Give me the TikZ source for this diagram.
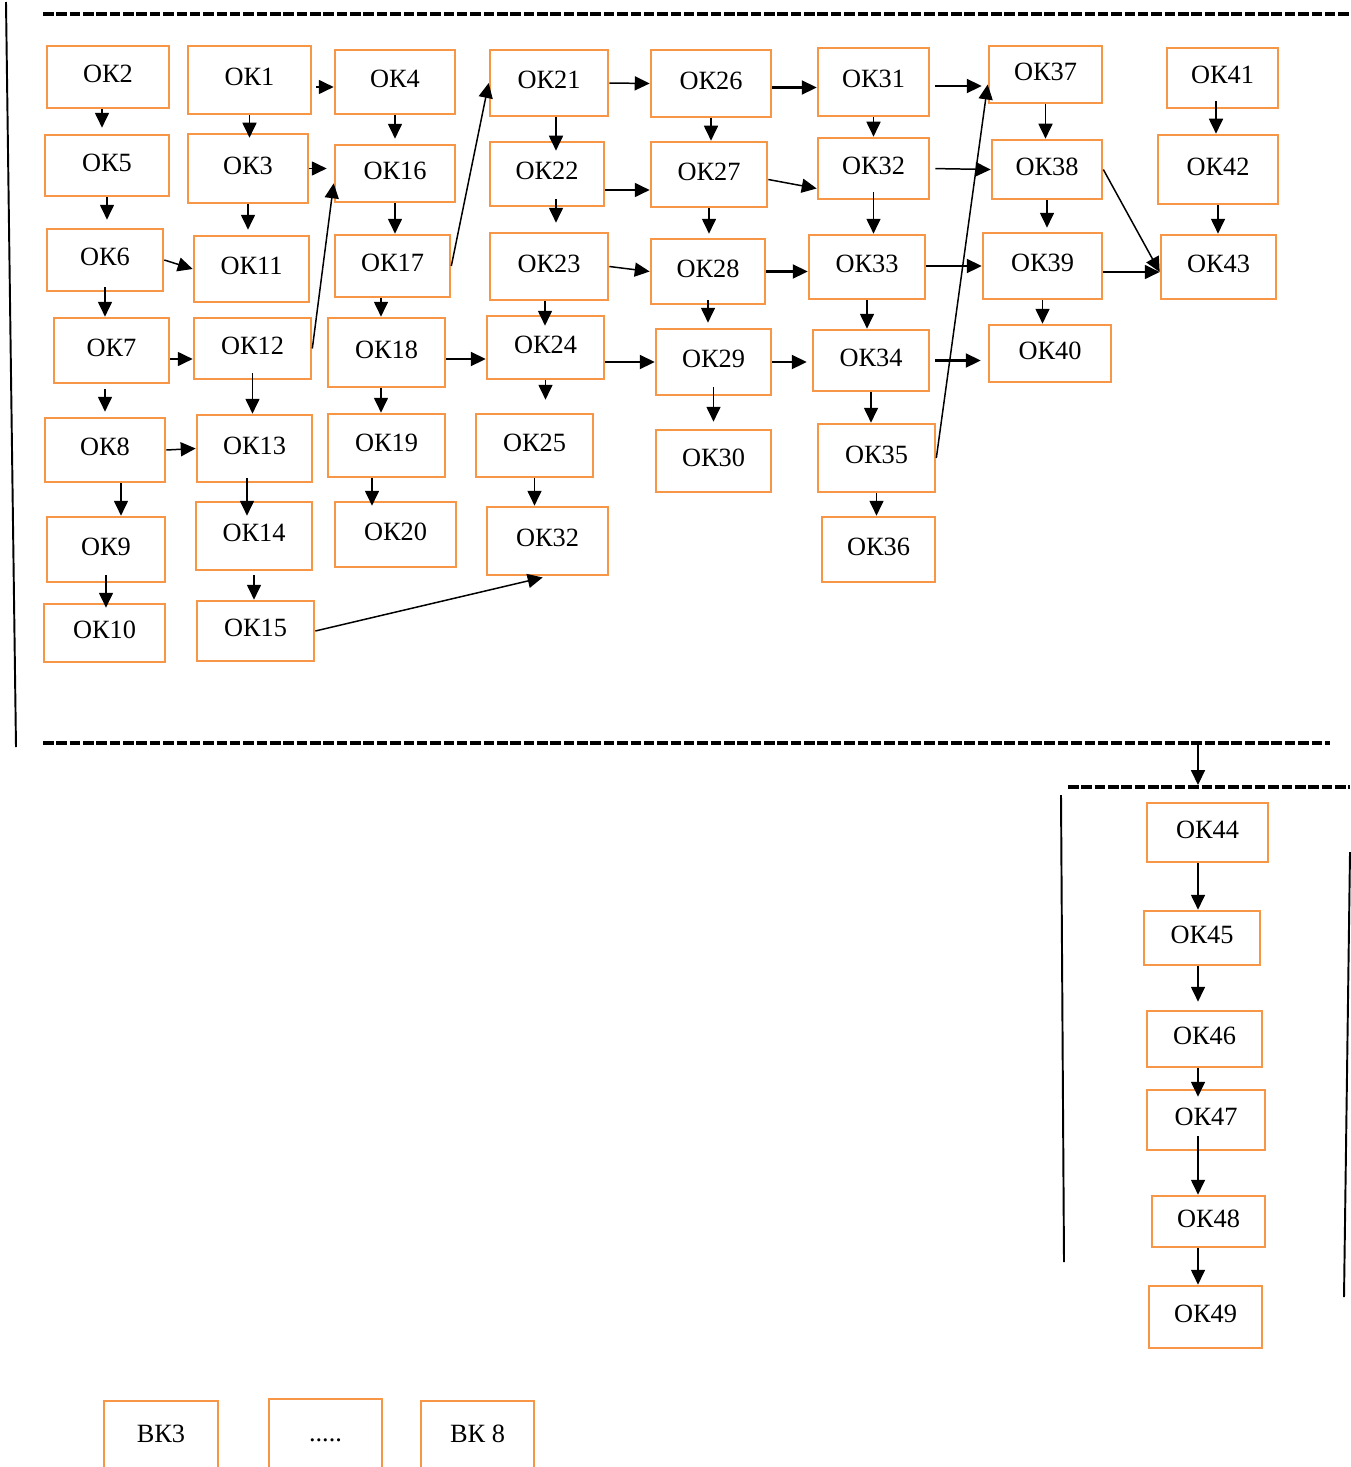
\documentclass[tikz,border=0pt]{standalone}
\usepackage{fontspec}
\setmainfont{Liberation Serif}
\usetikzlibrary{arrows.meta}
\definecolor{okorange}{RGB}{247,150,70}

\begin{document}
\begin{tikzpicture}[x=0.02cm,y=-0.02cm,
	okbox/.style={draw=okorange,line width=1.5pt,font=\fontsize{15}{18}\selectfont,text height=9.9pt,text depth=3.6pt,inner sep=2pt},
	sz/.style 2 args={minimum width=#1*0.02cm,minimum height=#2*0.02cm},
	okarr/.style={-{Triangle[length=8.5pt,width=8pt]},line width=0.85pt},
	okarrb/.style={okarr,line width=1.25pt},
	cut/.style={line width=2pt,dash pattern=on 6pt off 1.6pt}]
	\useasboundingbox (0,0) rectangle (1350,1467);

	% upper block
	\path (108,77)      node[okbox,sz={122}{62}] (ok2)  {ОК2};
	\path (249.5,80)    node[okbox,sz={123}{68}] (ok1)  {ОК1};
	\path (395,82)      node[okbox,sz={120}{64}] (ok4)  {ОК4};
	\path (107,165.5)   node[okbox,sz={124}{61}] (ok5)  {ОК5};
	\path (248,168.5)   node[okbox,sz={120}{69}] (ok3)  {ОК3};
	\path (395,173.5)   node[okbox,sz={120}{57}] (ok16) {ОК16};
	\path (105,260)     node[okbox,sz={116}{62}] (ok6)  {ОК6};
	\path (251.5,269)   node[okbox,sz={115}{66}] (ok11) {ОК11};
	\path (392.5,266)   node[okbox,sz={115}{62}] (ok17) {ОК17};
	\path (111.5,350.5) node[okbox,sz={115}{65}] (ok7)  {ОК7};
	\path (252.5,348.5) node[okbox,sz={117}{61}] (ok12) {ОК12};
	\path (386.5,352.5) node[okbox,sz={117}{69}] (ok18) {ОК18};
	\path (545.5,347.5) node[okbox,sz={117}{63}] (ok24) {ОК24};
	\path (105,450)     node[okbox,sz={120}{64}] (ok8)  {ОК8};
	\path (254.5,448.5) node[okbox,sz={115}{67}] (ok13) {ОК13};
	\path (386.5,445.5) node[okbox,sz={117}{63}] (ok19) {ОК19};
	\path (534.5,445.5) node[okbox,sz={117}{63}] (ok25) {ОК25};
	\path (106,549.5)   node[okbox,sz={118}{65}] (ok9)  {ОК9};
	\path (254,536)     node[okbox,sz={116}{68}] (ok14) {ОК14};
	\path (395.5,534.5) node[okbox,sz={121}{65}] (ok20) {ОК20};
	\path (547.5,541)   node[okbox,sz={121}{68}] (ok32b) {ОК32};
	\path (104.5,633)   node[okbox,sz={121}{58}] (ok10) {ОК10};
	\path (255.5,631)   node[okbox,sz={117}{60}] (ok15) {ОК15};
	\path (549,83)      node[okbox,sz={118}{66}] (ok21) {ОК21};
	\path (711,83.5)    node[okbox,sz={120}{67}] (ok26) {ОК26};
	\path (873.5,82)    node[okbox,sz={111}{68}] (ok31) {ОК31};
	\path (547,174)     node[okbox,sz={114}{64}] (ok22) {ОК22};
	\path (709,174.5)   node[okbox,sz={116}{65}] (ok27) {ОК27};
	\path (873.5,168.5) node[okbox,sz={111}{61}] (ok32) {ОК32};
	\path (549,266.5)   node[okbox,sz={118}{67}] (ok23) {ОК23};
	\path (708,271.5)   node[okbox,sz={114}{65}] (ok28) {ОК28};
	\path (867,267)     node[okbox,sz={116}{64}] (ok33) {ОК33};
	\path (713.5,362)   node[okbox,sz={115}{66}] (ok29) {ОК29};
	\path (871,360.5)   node[okbox,sz={116}{61}] (ok34) {ОК34};
	\path (1050,353.5)  node[okbox,sz={122}{57}] (ok40) {ОК40};
	\path (713.5,461)   node[okbox,sz={115}{62}] (ok30) {ОК30};
	\path (876.5,458)   node[okbox,sz={117}{68}] (ok35) {ОК35};
	\path (878.5,549.5) node[okbox,sz={113}{65}] (ok36) {ОК36};
	\path (1045.5,74.5) node[okbox,sz={113}{57}] (ok37) {ОК37};
	\path (1222.5,78)   node[okbox,sz={111}{60}] (ok41) {ОК41};
	\path (1047,169.5)  node[okbox,sz={110}{59}] (ok38) {ОК38};
	\path (1218,169.5)  node[okbox,sz={120}{69}] (ok42) {ОК42};
	\path (1042.5,266)  node[okbox,sz={119}{66}] (ok39) {ОК39};
	\path (1218.5,267)  node[okbox,sz={115}{64}] (ok43) {ОК43};

	% lower block
	\path (1207.5,832.5) node[okbox,sz={121}{59}] (ok44) {ОК44};
	\path (1202,938)     node[okbox,sz={116}{54}] (ok45) {ОК45};
	\path (1204.5,1039)  node[okbox,sz={115}{56}] (ok46) {ОК46};
	\path (1206,1120)    node[okbox,sz={118}{60}] (ok47) {ОК47};
	\path (1208.5,1221.5) node[okbox,sz={113}{51}] (ok48) {ОК48};
	\path (1205.5,1317)  node[okbox,sz={113}{62}] (ok49) {ОК49};

	\path (161,1436.5)   node[okbox,sz={114}{71}] (vk3)  {ВК3};
	\path (325.5,1435.5) node[okbox,sz={113}{73}] (vkx)  {.....};
	\path (477.5,1436.5) node[okbox,sz={113}{71}] (vk8)  {ВК 8};

	% frames
	\draw[line width=1.1pt] (6,2) -- (16,747);
	\draw[cut] (43,14) -- (1350,14);
	\draw[cut] (43,743) -- (1330,743);
	\draw[cut] (1068,787) -- (1350,787);
	\draw[line width=1.1pt] (1061,795) -- (1064,1262);
	\draw[line width=1.1pt] (1350,852) -- (1344,1297);

	% down the columns
	\draw[okarr,shorten >=0.12cm] ([xshift=-0.12cm]ok2.south) -- ([xshift=-0.12cm]ok2.south |- ok5.north);
	\draw[okarr,shorten >=0.16cm] (ok5.south) -- (ok5.south |- ok6.north);
	\draw[okarr,shorten <=-0.1cm] (ok6.south) -- (ok6.south |- ok7.north);
	\draw[okarr,shorten <=0.1cm,shorten >=0.1cm] ([xshift=-0.13cm]ok7.south) -- ([xshift=-0.13cm]ok7.south |- ok8.north);
	\draw[okarr] ([xshift=0.32cm]ok8.south) -- ([xshift=0.32cm]ok8.south |- ok9.north);
	\draw[okarr,shorten <=-0.16cm,shorten >=-0.1cm] (ok9.south) -- (ok9.south |- ok10.north);
	\draw[okarr,shorten >=-0.1cm] (ok1.south) -- (ok1.south |- ok3.north);
	\draw[okarr,shorten >=0.1cm] (ok3.south) -- (ok3.south |- ok11.north);
	\draw[okarr,shorten <=-0.14cm] (ok12.south) -- (ok12.south |- ok13.north);
	\draw[okarr,shorten <=-0.1cm,shorten >=-0.3cm] ([xshift=-0.15cm]ok13.south) -- ([xshift=-0.15cm]ok13.south |- ok14.north);
	\draw[okarr,shorten <=0.08cm] (ok14.south) -- (ok14.south |- ok15.north);
	\draw[okarr,shorten >=0.1cm] (ok4.south) -- (ok4.south |- ok16.north);
	\draw[okarr] (ok16.south) -- (ok16.south |- ok17.north);
	\draw[okarr] ([xshift=-0.23cm]ok17.south) -- ([xshift=-0.23cm]ok17.south |- ok18.north);
	\draw[okarr] ([xshift=-0.11cm]ok18.south) -- ([xshift=-0.11cm]ok18.south |- ok19.north);
	\draw[okarr,shorten >=-0.1cm] ([xshift=-0.29cm]ok19.south) -- ([xshift=-0.29cm]ok19.south |- ok20.north);
	\draw[okarr,shorten >=-0.2cm] ([xshift=0.14cm]ok21.south) -- ([xshift=0.14cm]ok21.south |- ok22.north);
	\draw[okarr,shorten <=-0.16cm,shorten >=0.18cm] ([xshift=0.18cm]ok22.south) -- ([xshift=0.18cm]ok22.south |- ok23.north);
	\draw[okarr,shorten >=-0.22cm] ([xshift=-0.08cm]ok23.south) -- ([xshift=-0.08cm]ok23.south |- ok24.north);
	\draw[okarr,shorten >=0.26cm] (ok24.south) -- (ok24.south |- ok25.north);
	\draw[okarr] (ok25.south) -- (ok25.south |- ok32b.north);
	\draw[okarr] (ok26.south) -- (ok26.south |- ok27.north);
	\draw[okarr,shorten >=0.08cm] (ok27.south) -- (ok27.south |- ok28.north);
	\draw[okarr,shorten <=-0.1cm,shorten >=0.1cm] (ok28.south) -- (ok28.south |- ok29.north);
	\draw[okarr,shorten <=-0.18cm,shorten >=0.14cm] (ok29.south) -- (ok29.south |- ok30.north);
	\draw[okarr] (ok31.south) -- (ok31.south |- ok32.north);
	\draw[okarr,shorten <=-0.16cm] (ok32.south) -- (ok32.south |- ok33.north);
	\draw[okarr] (ok33.south) -- (ok33.south |- ok34.north);
	\draw[okarr] (ok34.south) -- (ok34.south |- ok35.north);
	\draw[okarr] (ok35.south) -- (ok35.south |- ok36.north);
	\draw[okarr] (ok37.south) -- (ok37.south |- ok38.north);
	\draw[okarr,shorten >=0.08cm] (ok38.south) -- (ok38.south |- ok39.north);
	\draw[okarr] (ok39.south) -- (ok39.south |- ok40.north);
	\draw[okarr,shorten <=-0.16cm] ([xshift=-0.13cm]ok41.south) -- ([xshift=-0.13cm]ok41.south |- ok42.north);
	\draw[okarr] (ok42.south) -- (ok42.south |- ok43.north);

	% across the rows
	\draw[okarr,shorten <=0.08cm] ([yshift=-0.14cm]ok1.east) -- ([yshift=-0.14cm]ok1.east -| ok4.west);
	\draw[okarr,shorten >=0.14cm] (ok3.east) -- (ok3.east -| ok16.west);
	\draw[okarr] (ok6.east) -- (ok11.west);
	\draw[okarr] ([yshift=-0.17cm]ok7.east) -- ([yshift=-0.17cm]ok7.east -| ok12.west);
	\draw[okarr] (ok8.east) -- (ok13.west);
	\draw[okarr] (ok12.east) -- ([yshift=0.4cm]ok16.south west);
	\draw[okarr] (ok17.east) -- (ok21.west);
	\draw[okarrb] ([yshift=-0.13cm]ok18.east) -- ([yshift=-0.13cm]ok18.east -| ok24.west);
	\draw[okarrb] (ok24.east |- ok29.west) -- (ok29.west);
	\draw[okarr] (ok21.east) -- (ok26.west);
	\draw[okarr] ([yshift=-0.32cm]ok22.east) -- ([yshift=-0.32cm]ok22.east -| ok27.west);
	\draw[okarr] (ok23.east) -- (ok28.west);
	\draw[okarrb] ([yshift=-0.08cm]ok26.east) -- ([yshift=-0.08cm]ok26.east -| ok31.west);
	\draw[okarr] ([yshift=-0.1cm]ok27.east) -- ([yshift=-0.4cm]ok32.west);
	\draw[okarrb] (ok28.east) -- (ok28.east -| ok33.west);
	\draw[okarrb,shorten >=0.1cm] (ok29.east) -- (ok29.east -| ok34.west);
	\draw[okarrb,shorten <=0.1cm,shorten >=0.12cm] ([yshift=-0.08cm]ok31.east) -- ([yshift=-0.08cm]ok31.east -| ok37.west);
	\draw[okarr,shorten <=0.1cm] (ok32.east) -- (ok38.west);
	\draw[okarrb] (ok33.east |- ok39.west) -- (ok39.west);
	\draw[okarrb,shorten <=0.1cm,shorten >=0.14cm] (ok34.east) -- (ok34.east -| ok40.west);
	\draw[okarr] (ok35.east) -- ([yshift=-0.2cm]ok37.west);
	\draw[okarr] (ok38.east) -- ([yshift=-0.1cm]ok43.west);
	\draw[okarr] ([yshift=-0.12cm]ok39.east) -- ([yshift=-0.12cm]ok39.east -| ok43.west);
	\draw[okarr,shorten >=0.1cm] (ok15.east) -- (ok32b.south);

	% lower column
	\coordinate (drop) at (1198,743);
	\coordinate (land) at (1198,785);
	\draw[okarr] (drop) -- (land);
	\draw[okarr] (ok44.south -| land) -- (ok45.north -| land);
	\draw[okarr,shorten >=0.16cm] (ok45.south -| land) -- (ok46.north -| land);
	\draw[okarr,shorten >=-0.16cm] (ok46.south -| land) -- (ok47.north -| land);
	\draw[okarr,shorten <=-0.3cm] (ok47.south -| land) -- (ok48.north -| land);
	\draw[okarr] (ok48.south -| land) -- (ok49.north -| land);
\end{tikzpicture}
\end{document}
